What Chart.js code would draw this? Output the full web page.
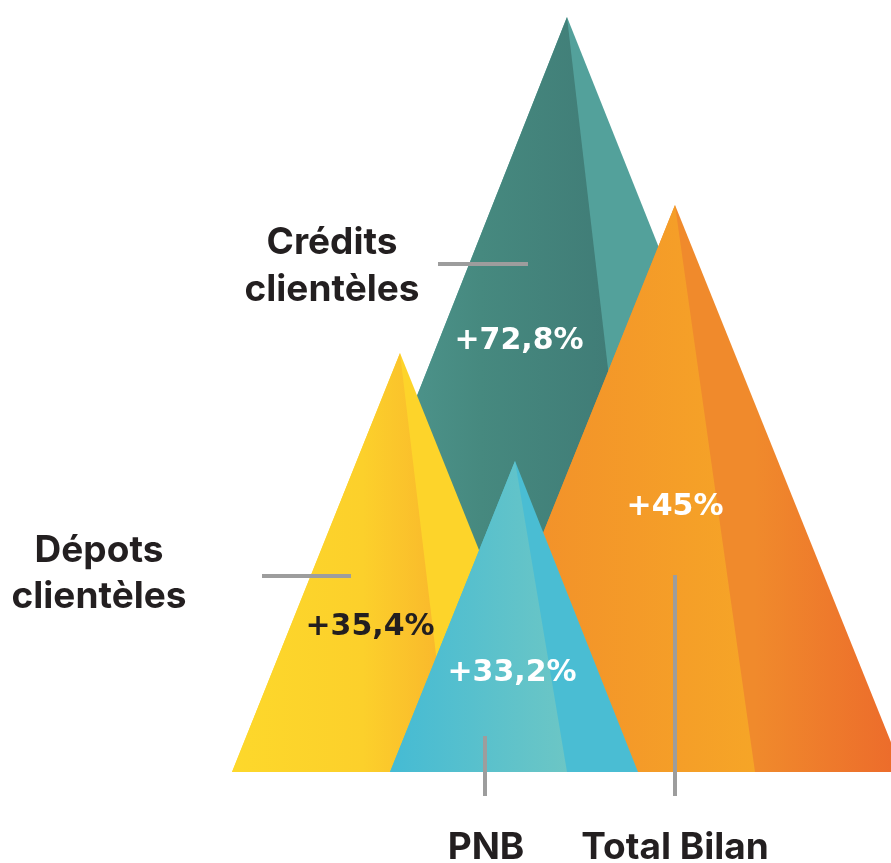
<!DOCTYPE html>
<html lang="fr">
<head>
    <meta charset="UTF-8">
    <title>Croissance des indicateurs</title>
    <script src="https://cdn.jsdelivr.net/npm/chart.js"></script>
    <style>
        body {
            margin: 0;
            background-color: #fff;
        }
        #peaks {
            display: block;
        }
    </style>
</head>
<body>
    <canvas id="peaks" width="891" height="863"></canvas>

    <script>
        // Indicateurs (ordre de dessin : du fond vers l'avant)
        const categories = ['Crédits clientèles', 'Dépots clientèles', 'Total Bilan', 'PNB'];
        const growthLabels = ['+72,8%', '+35,4%', '+45%', '+33,2%'];

        // Géométrie des pyramides, en unités d'axe (x horizontal, y = hauteur au-dessus de la base)
        const apexX = [567, 400, 675, 515];
        const apexHeight = [755, 419, 567, 311];
        const baseLeft = [268, 232, 447, 390];
        const baseRight = [868, 568, 903, 638];
        const ridgeX = [655, 450, 755, 567];

        // couleurs : face gauche (dégradé), face droite (dégradé) -- [position, couleur]
        const leftFaceColors = [
            [[0, '#58a6a0'], [0.55, '#46897f'], [1, '#3e7874']],
            [[0, '#fdd82b'], [0.6, '#fcd02b'], [1, '#f9b52c']],
            [[0, '#f18a2b'], [1, '#f6a527']],
            [[0, '#45bbd4'], [1, '#6cc6c5']]
        ];
        const rightFaceColors = [
            [[0, '#53a19b'], [1, '#53a19b']],
            [[0, '#fdd42a'], [1, '#fdd42a']],
            [[0, '#f08a2c'], [1, '#ec6a2b']],
            [[0, '#4abdd3'], [1, '#4abdd3']]
        ];
        const growthColors = ['#ffffff', '#231f20', '#ffffff', '#ffffff'];

        // mise en page des textes et des traits (unités d'axe)
        const nameLayout = [
            { x: 332, y: [529, 482], lines: ['Crédits', 'clientèles'] },
            { x: 99, y: [221, 175], lines: ['Dépots', 'clientèles'] },
            { x: 675, y: [-76], lines: ['Total Bilan'] },
            { x: 486, y: [-76], lines: ['PNB'] }
        ];
        const growthLayout = [
            { x: 519, y: 431 },
            { x: 370, y: 145 },
            { x: 675, y: 265 },
            { x: 512, y: 99 }
        ];
        const connectors = [
            { x1: 438, y1: 508, x2: 528, y2: 508 },
            { x1: 262, y1: 196, x2: 351, y2: 196 },
            { x1: 675, y1: 197, x2: 675, y2: -24 },
            { x1: 485, y1: 36, x2: 485, y2: -24 }
        ];

        function faceGradient(chart, x0, x1, stops) {
            const area = chart.chartArea;
            if (!area) return stops[0][1];
            const xs = chart.scales.x;
            const g = chart.ctx.createLinearGradient(xs.getPixelForValue(x0), 0, xs.getPixelForValue(x1), 0);
            stops.forEach(s => g.addColorStop(s[0], s[1]));
            return g;
        }

        // chaque pyramide : triangle entier (teinte de la face droite), puis face gauche par-dessus
        const datasets = [];
        categories.forEach((name, i) => {
            const order = (categories.length - i) * 2;
            datasets.push({
                label: name,
                data: [
                    { x: baseLeft[i], y: 0 },
                    { x: apexX[i], y: apexHeight[i] },
                    { x: baseRight[i], y: 0 }
                ],
                backgroundColor: (ctx) => faceGradient(ctx.chart, ridgeX[i], baseRight[i], rightFaceColors[i]),
                order: order
            });
            datasets.push({
                label: name + ' (face gauche)',
                data: [
                    { x: baseLeft[i], y: 0 },
                    { x: apexX[i], y: apexHeight[i] },
                    { x: ridgeX[i], y: 0 }
                ],
                backgroundColor: (ctx) => faceGradient(ctx.chart, baseLeft[i], ridgeX[i], leftFaceColors[i]),
                order: order - 1
            });
        });

        const annotations = {
            id: 'annotations',
            afterDatasetsDraw(chart) {
                const ctx = chart.ctx;
                const xs = chart.scales.x;
                const ys = chart.scales.y;

                ctx.save();
                ctx.strokeStyle = '#9d9d9d';
                ctx.lineWidth = 4;
                connectors.forEach(c => {
                    ctx.beginPath();
                    ctx.moveTo(xs.getPixelForValue(c.x1), ys.getPixelForValue(c.y1));
                    ctx.lineTo(xs.getPixelForValue(c.x2), ys.getPixelForValue(c.y2));
                    ctx.stroke();
                });

                ctx.textAlign = 'center';
                ctx.textBaseline = 'middle';

                ctx.font = 'bold 30px "DejaVu Sans"';
                growthLabels.forEach((txt, i) => {
                    ctx.fillStyle = growthColors[i];
                    ctx.fillText(txt, xs.getPixelForValue(growthLayout[i].x), ys.getPixelForValue(growthLayout[i].y));
                });

                ctx.font = 'bold 37px Inter';
                ctx.fillStyle = '#231f20';
                nameLayout.forEach(n => {
                    n.lines.forEach((line, k) => {
                        ctx.fillText(line, xs.getPixelForValue(n.x), ys.getPixelForValue(n.y[k]));
                    });
                });
                ctx.restore();
            }
        };

        new Chart(document.getElementById('peaks'), {
            type: 'line',
            data: { datasets: datasets },
            options: {
                responsive: false,
                animation: false,
                devicePixelRatio: 1,
                layout: { padding: 0 },
                elements: {
                    line: { borderWidth: 0, tension: 0, fill: 'origin' },
                    point: { radius: 0, hoverRadius: 0 }
                },
                plugins: {
                    legend: { display: false },
                    tooltip: { enabled: false }
                },
                events: [],
                scales: {
                    x: { type: 'linear', display: false, min: 0, max: 891 },
                    y: { type: 'linear', display: false, min: -91, max: 772 }
                }
            },
            plugins: [annotations]
        });
    </script>
</body>
</html>
